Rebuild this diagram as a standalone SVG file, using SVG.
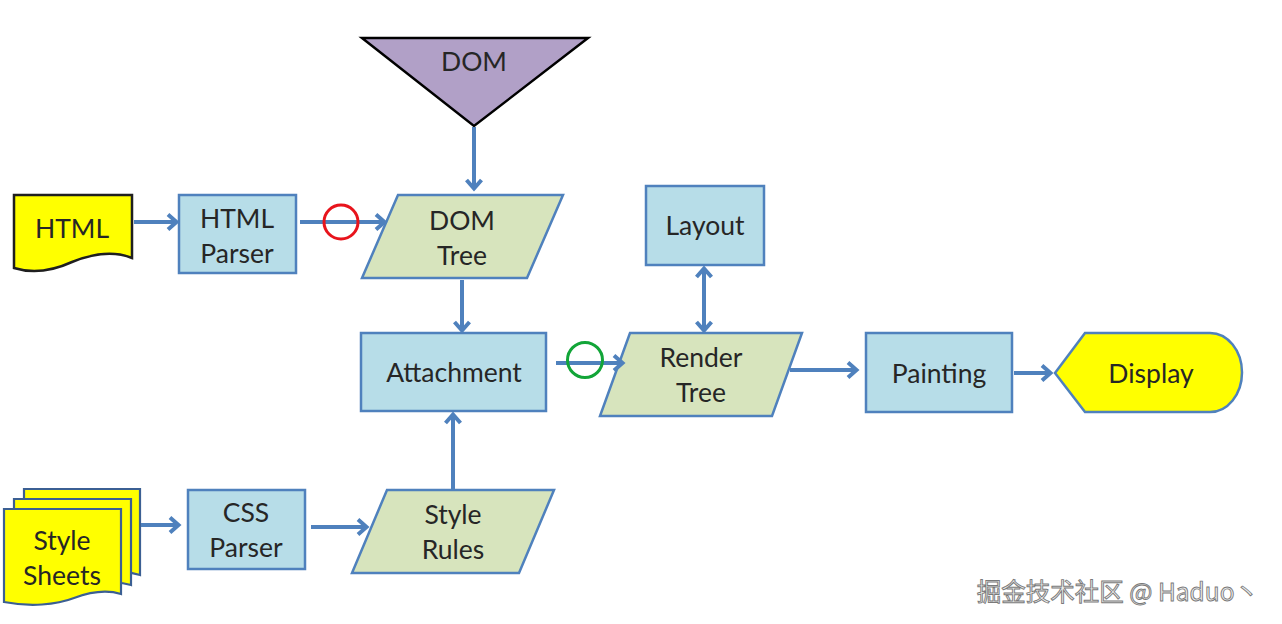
<svg xmlns="http://www.w3.org/2000/svg" width="1282" height="624" viewBox="0 0 1282 624">
<defs>
<marker id="ah" markerUnits="userSpaceOnUse" markerWidth="16" markerHeight="20" refX="11" refY="9" orient="auto">
<path d="M2,1.5 L10.5,9 L2,16.5" fill="none" stroke="#4f81bd" stroke-width="4"/>
</marker>
<marker id="ahs" markerUnits="userSpaceOnUse" markerWidth="16" markerHeight="20" refX="11" refY="9" orient="auto-start-reverse">
<path d="M2,1.5 L10.5,9 L2,16.5" fill="none" stroke="#4f81bd" stroke-width="4"/>
</marker>
</defs>
<style>
.proc{fill:#b7dde8;stroke:#4f81bd;stroke-width:2.5}
.data{fill:#d7e4bd;stroke:#4f81bd;stroke-width:2.5}
.doc{fill:#ffff00;stroke:#1f1f1f;stroke-width:2.5}
.docb{fill:#ffff00;stroke:#3b5f93;stroke-width:2.2}
.lbl{font-family:Lato,"Open Sans","Liberation Sans",sans-serif;font-size:26.5px;fill:#262626;text-anchor:middle}
.conn{fill:none;stroke:#4f81bd;stroke-width:4}
</style>
<rect width="1282" height="624" fill="#ffffff"/>

<g id="dom">
<polygon points="362,38 588,38 474,126" fill="#b1a0c7" stroke="#000" stroke-width="2.5"/>
<text class="lbl" x="474" y="71">DOM</text>
</g>

<g id="html">
<path class="doc" d="M14,195 H132 V258 C112,250 92,254 72,262 C50,272 30,273 14,268 Z"/>
<text class="lbl" x="72" y="238">HTML</text>
</g>

<g id="html-parser">
<rect class="proc" x="179" y="195" width="117" height="78"/>
<text class="lbl" x="237" y="228">HTML</text>
<text class="lbl" x="237" y="263">Parser</text>
</g>

<g id="dom-tree">
<polygon class="data" points="398,195 563,195 527,278 362,278"/>
<text class="lbl" x="462" y="230">DOM</text>
<text class="lbl" x="462" y="265">Tree</text>
</g>

<g id="attachment">
<rect class="proc" x="361" y="333" width="185" height="78"/>
<text class="lbl" x="454" y="382">Attachment</text>
</g>

<g id="layout">
<rect class="proc" x="646" y="186" width="118" height="79"/>
<text class="lbl" x="705" y="235">Layout</text>
</g>

<g id="render-tree">
<polygon class="data" points="630,333 802,333 772,416 600,416"/>
<text class="lbl" x="701" y="367">Render</text>
<text class="lbl" x="701" y="402">Tree</text>
</g>

<g id="painting">
<rect class="proc" x="866" y="333" width="146" height="79"/>
<text class="lbl" x="939" y="383">Painting</text>
</g>

<g id="display">
<path d="M1055,373 L1085,333 H1210 A32,39.5 0 0 1 1210,412 H1085 Z" fill="#ffff00" stroke="#4f81bd" stroke-width="2.5"/>
<text class="lbl" x="1151" y="383">Display</text>
</g>

<g id="style-sheets">
<path class="docb" d="M24,489 H140 V575 C124,570 110,573 96,578 C80,584 58,586 24,583 Z"/>
<path class="docb" d="M14,499 H131 V585 C115,580 100,583 86,588 C70,594 48,596 14,593 Z"/>
<path class="docb" d="M4,509 H121 V594 C105,589 90,592 74,598 C56,605 30,607 4,602 Z"/>
<text class="lbl" x="62" y="550">Style</text>
<text class="lbl" x="62" y="585">Sheets</text>
</g>

<g id="css-parser">
<rect class="proc" x="188" y="490" width="117" height="79"/>
<text class="lbl" x="246" y="522">CSS</text>
<text class="lbl" x="246" y="557">Parser</text>
</g>

<g id="style-rules">
<polygon class="data" points="387,490 554,490 519,573 352,573"/>
<text class="lbl" x="453" y="524">Style</text>
<text class="lbl" x="453" y="559">Rules</text>
</g>

<g id="connectors">
<line class="conn" x1="474" y1="127" x2="474" y2="189" marker-end="url(#ah)"/>
<line class="conn" x1="134" y1="222" x2="177" y2="222" marker-end="url(#ah)"/>
<line class="conn" x1="300" y1="222" x2="385" y2="222" marker-end="url(#ah)"/>
<line class="conn" x1="462" y1="280" x2="462" y2="331" marker-end="url(#ah)"/>
<line class="conn" x1="556" y1="363" x2="623" y2="363" marker-end="url(#ah)"/>
<line class="conn" x1="704" y1="268" x2="704" y2="331" marker-start="url(#ahs)" marker-end="url(#ah)"/>
<line class="conn" x1="790" y1="370" x2="857" y2="370" marker-end="url(#ah)"/>
<line class="conn" x1="1014" y1="373" x2="1051" y2="373" marker-end="url(#ah)"/>
<line class="conn" x1="141" y1="525" x2="179" y2="525" marker-end="url(#ah)"/>
<line class="conn" x1="311" y1="527" x2="367" y2="527" marker-end="url(#ah)"/>
<line class="conn" x1="453" y1="489" x2="453" y2="414" marker-end="url(#ah)"/>
</g>

<g id="marks">
<circle cx="341" cy="222" r="17" fill="none" stroke="#e8141c" stroke-width="3"/>
<circle cx="585" cy="360" r="17.5" fill="none" stroke="#12a538" stroke-width="3"/>
</g>

<text x="1259" y="601" text-anchor="end" font-family="'Noto Sans CJK SC','Noto Sans',sans-serif" font-size="24.5" fill="#eeeeee" stroke="#7a7a7a" stroke-width="0.9">掘金技术社区 @ Haduo丶</text>
</svg>
